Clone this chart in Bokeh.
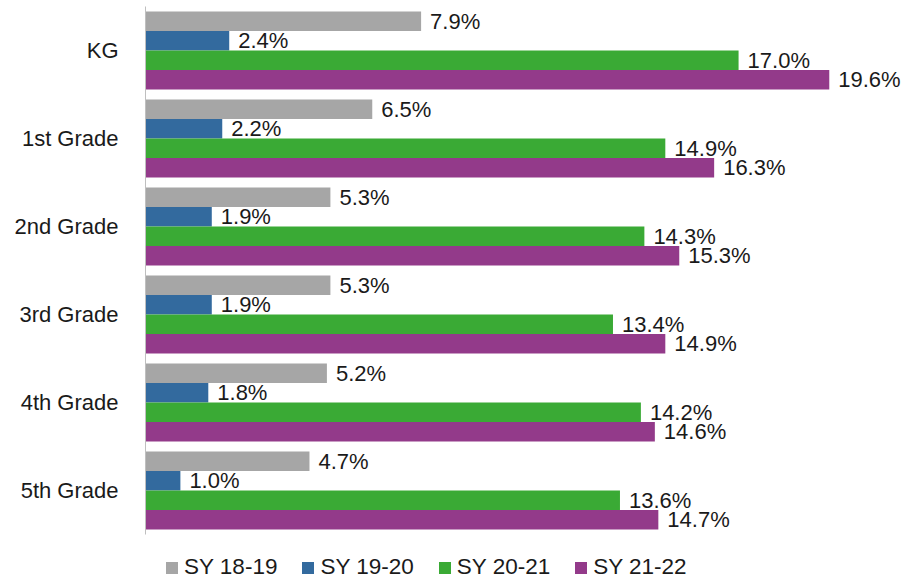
from bokeh.plotting import figure
from bokeh.models import ColumnDataSource, Range1d, Legend, LegendItem, LabelSet, FixedTicker
from bokeh.transform import dodge
from bokeh.core.properties import value
from bokeh.embed import file_html
from bokeh.resources import INLINE

grades = ["KG", "1st Grade", "2nd Grade", "3rd Grade", "4th Grade", "5th Grade"]
series = ["SY 18-19", "SY 19-20", "SY 20-21", "SY 21-22"]
sy_18_19 = [7.9, 6.5, 5.3, 5.3, 5.2, 4.7]
sy_19_20 = [2.4, 2.2, 1.9, 1.9, 1.8, 1.0]
sy_20_21 = [17.0, 14.9, 14.3, 13.4, 14.2, 13.6]
sy_21_22 = [19.6, 16.3, 15.3, 14.9, 14.6, 14.7]
colors = ["#A6A6A6", "#336A9E", "#3AAA35", "#933A8A"]

values = [sy_18_19, sy_19_20, sy_20_21, sy_21_22]
offsets = [0.333, 0.111, -0.111, -0.333]
n = len(grades)
ypos = [n - 0.5 - i for i in range(n)]

p = figure(frame_width=771, frame_height=574, output_backend="svg", toolbar_location=None,
           y_range=Range1d(-0.523, n), x_range=Range1d(0, 22.1),
           min_border_left=145, min_border_right=8, min_border_top=6, min_border_bottom=0)
p.outline_line_color = None
p.xaxis.visible = False
p.xgrid.visible = False
p.ygrid.visible = False
p.yaxis.bounds = (0, n)
p.yaxis.ticker = FixedTicker(ticks=ypos)
p.yaxis.major_label_overrides = {y: g for y, g in zip(ypos, grades)}
p.yaxis.axis_line_color = "#BFBFBF"
p.yaxis.axis_line_width = 1
p.yaxis.major_tick_line_color = None
p.yaxis.minor_tick_line_color = None
p.yaxis.major_label_text_font = "Liberation Sans"
p.yaxis.major_label_text_font_size = "22px"
p.yaxis.major_label_text_color = "#1A1A1A"
p.yaxis.major_label_standoff = 21

items = []
for name, vals, col, off in zip(series, values, colors, offsets):
    src = ColumnDataSource(dict(y=ypos, v=vals, lab=[f"{x:.1f}%" for x in vals]))
    r = p.hbar(y=dodge("y", off), right="v", left=0, height=0.222,
               source=src, fill_color=col, line_color=None)
    lbl = LabelSet(x="v", y=dodge("y", off), text="lab", source=src,
                   x_offset=9, text_baseline="middle", text_align="left",
                   text_font=value("Liberation Sans"), text_font_size=value("22px"),
                   text_color="#1A1A1A")
    p.add_layout(lbl)
    items.append(LegendItem(label=name, renderers=[r]))

legend = Legend(items=items, orientation="horizontal", location=(19, 0),
                label_text_font="Liberation Sans", label_text_font_size="22.5px",
                label_text_color="#1A1A1A", glyph_width=15, glyph_height=15,
                label_standoff=5, spacing=23, padding=0, margin=0,
                border_line_alpha=0, background_fill_alpha=0)
p.add_layout(legend)

open("out.html", "w").write(file_html(p, INLINE))
